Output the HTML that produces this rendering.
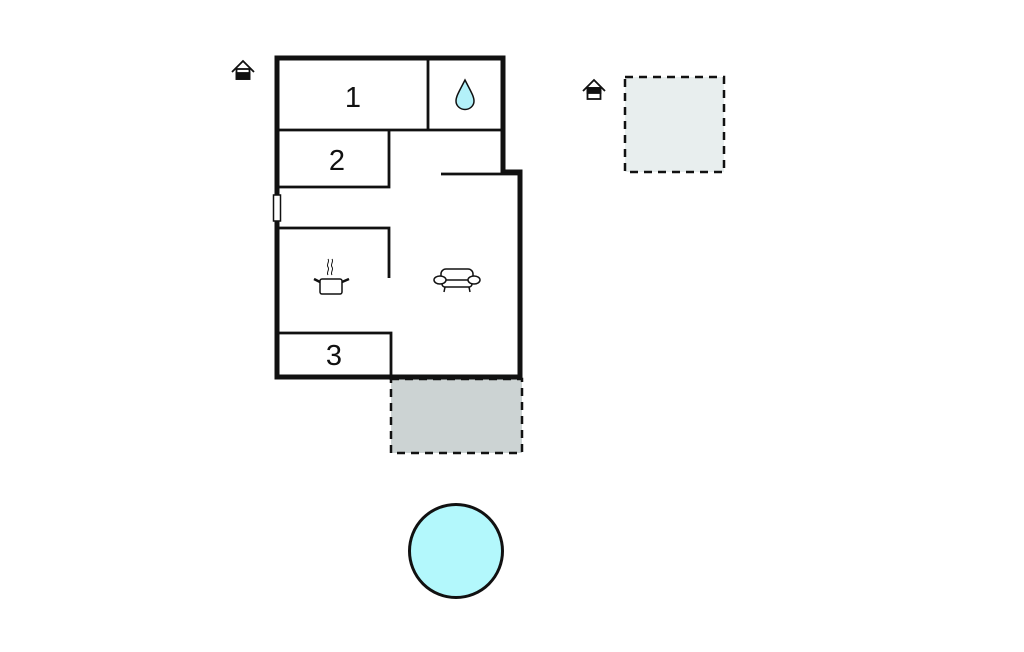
<!DOCTYPE html>
<html><head><meta charset="utf-8"><style>
html,body{margin:0;padding:0;background:#fff;width:1024px;height:652px;overflow:hidden}
</style></head><body>
<svg width="1024" height="652" viewBox="0 0 1024 652" xmlns="http://www.w3.org/2000/svg">
<rect width="1024" height="652" fill="#fff"/>
<rect x="391" y="379" width="131" height="74" fill="#ccd3d3" stroke="#111" stroke-width="2.5" stroke-dasharray="8,6"/>
<rect x="625" y="77" width="99" height="95" fill="#e8eeee" stroke="#111" stroke-width="2.5" stroke-dasharray="8,6"/>
<circle cx="456" cy="551" r="46.5" fill="#b3f8fc" stroke="#111" stroke-width="3"/>
<path d="M277,377 L277,58 L503,58 L503,172 L520,172 L520,377 Z" fill="#fff" stroke="#111" stroke-width="5"/>
<g stroke="#111" stroke-width="2.8" fill="none">
<line x1="277" y1="130" x2="503" y2="130"/>
<line x1="428" y1="58" x2="428" y2="130"/>
<polyline points="277,187 389,187 389,130"/>
<line x1="441" y1="174" x2="520" y2="174"/>
<polyline points="277,228 389,228 389,278"/>
<polyline points="277,333 391,333 391,380"/>
</g>
<rect x="273.5" y="195" width="7" height="26" fill="#fff" stroke="#111" stroke-width="1.5"/>
<g font-family="Liberation Sans, sans-serif" font-size="29" fill="#111" text-anchor="middle">
<text x="353" y="107">1</text>
<text x="337" y="170">2</text>
<text x="334" y="365">3</text>
</g>
<path d="M465,80 C470,90 474,96 474,101 A9,8.5 0 0 1 456,101 C456,96 460,90 465,80 Z" fill="#b3f1f9" stroke="#111" stroke-width="1.5"/>
<g stroke="#111" stroke-width="1.5" fill="none">
<rect x="320" y="279" width="22" height="15" rx="2" fill="#fff"/>
<line x1="320" y1="282" x2="314" y2="279" stroke-width="2.5"/>
<line x1="342" y1="282" x2="349" y2="279" stroke-width="2.5"/>
<path d="M328,275 c-2,-3 2,-5 0,-8 c-2,-3 2,-5 0,-8" stroke-width="1"/>
<path d="M332,275 c-2,-3 2,-5 0,-8 c-2,-3 2,-5 0,-8" stroke-width="1"/>
</g>
<g stroke="#111" stroke-width="1.5" fill="#fff">
<rect x="441" y="269" width="32" height="12" rx="5"/>
<rect x="442" y="280" width="30" height="7" rx="3"/>
<ellipse cx="440" cy="280" rx="6" ry="4"/>
<ellipse cx="474" cy="280" rx="6" ry="4"/>
<line x1="445" y1="287" x2="444" y2="292"/>
<line x1="469" y1="287" x2="470" y2="292"/>
</g>
<g stroke="#111" stroke-width="1.8" fill="none">
<polyline points="232,72 243,61 254,72"/>
<rect x="236.5" y="69" width="13" height="10" fill="#fff"/>
<rect x="236.5" y="73" width="13" height="6" fill="#111"/>
<polyline points="583,91 594,80 605,91"/>
<rect x="587.5" y="88" width="13" height="11" fill="#fff"/>
<rect x="587.5" y="88" width="13" height="5" fill="#111"/>
</g>
</svg>
</body></html>
